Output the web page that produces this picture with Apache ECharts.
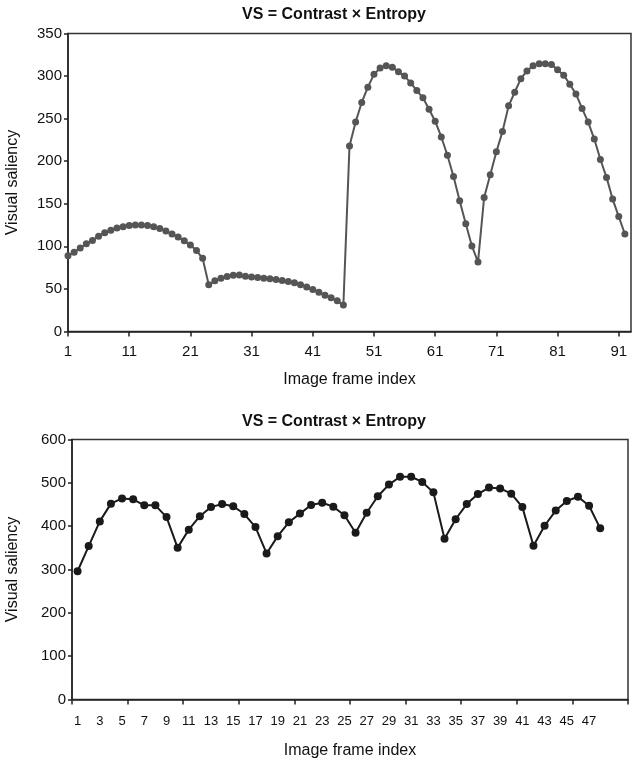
<!DOCTYPE html>
<html>
<head>
<meta charset="utf-8">
<script src="https://cdn.jsdelivr.net/npm/echarts@6/dist/echarts.min.js"></script>
<style>
html,body{margin:0;padding:0;background:#fff;}
#c{width:636px;height:760px;}
</style>
</head>
<body>
<div id="c"></div>
<script>
// ---- Data ----
var titleText = 'VS = Contrast × Entropy';
var xName = 'Image frame index';
var yName = 'Visual saliency';

// Top chart: frame index categories 1..93
var topCategories = Array.from({length: 93}, function (_, i) { return String(i + 1); });
var topValues = [
  89, 93, 98, 103, 107, 112, 116, 119, 121.5, 123, 124.5, 125, 125, 124.5, 123, 121, 118, 114.5, 111, 106.5, 101.5, 95, 86,
  55, 59.5, 62.5, 64.5, 66, 66.5, 65, 64, 63.3, 62.6, 62, 61, 60, 58.8, 57.2, 55, 52.2, 49.3, 46.2, 42.7, 39.5, 36, 31,
  218, 246, 269, 287, 302, 309.5, 312, 310.5, 305, 300, 292, 283, 274.5, 261, 247, 228.5, 207, 182, 153.5, 126.5, 100.5, 81.5,
  157.5, 184, 211, 235, 265, 281, 297, 306, 312, 314.5, 314.5, 313.5, 307.5, 301, 290.5, 279, 262, 246, 226, 202, 181, 155.5, 135, 114.5
];
var topYTicks = [0, 50, 100, 150, 200, 250, 300, 350];

// Bottom chart: frame index categories 1..48 (axis spans 50 slots)
var bottomCategories = ['1','2','3','4','5','6','7','8','9','10','11','12','13','14','15','16','17','18','19','20','21','22','23','24',
  '25','26','27','28','29','30','31','32','33','34','35','36','37','38','39','40','41','42','43','44','45','46','47','48','',''];
var bottomValues = [
  296, 354, 411, 452, 464, 462, 448, 448, 421, 350,
  392, 423, 444, 451, 446, 428, 398, 337, 377, 409,
  429, 449, 454, 445, 425, 385, 431, 469, 496, 514,
  514, 502, 478, 371, 416, 451, 474, 489, 487, 475,
  444, 355, 401, 436, 458, 468, 447, 395
];
var bottomYTicks = [0, 100, 200, 300, 400, 500, 600];

// ---- Chart ----
var FONT = 'Liberation Sans';
var axisColor = '#222';
var chart = echarts.init(document.getElementById('c'), null, {renderer: 'canvas'});

function yAxisCfg(gridIndex, ticks, gap) {
  return {
    type: 'value', gridIndex: gridIndex,
    min: ticks[0], max: ticks[ticks.length - 1], interval: ticks[1] - ticks[0],
    name: yName, nameLocation: 'middle', nameGap: gap, nameRotate: 90,
    nameTextStyle: {fontFamily: FONT, fontSize: 16, color: '#111'},
    axisLine: {show: true, lineStyle: {color: axisColor, width: 1.5}},
    axisTick: {show: true, inside: false, length: 4, lineStyle: {color: axisColor, width: 1.5}},
    axisLabel: {fontFamily: FONT, fontSize: 15, color: '#111', margin: 6},
    splitLine: {show: false}
  };
}

var option = {
  animation: false,
  backgroundColor: '#fff',
  title: [
    {text: titleText, left: 329, top: 2, textAlign: 'center',
     textStyle: {fontFamily: FONT, fontSize: 16, fontWeight: 'bold', color: '#111'}},
    {text: titleText, left: 329, top: 409, textAlign: 'center',
     textStyle: {fontFamily: FONT, fontSize: 16, fontWeight: 'bold', color: '#111'}}
  ],
  grid: [
    {left: 68, right: 5, top: 33.5, height: 298, show: true, borderColor: '#333', borderWidth: 1.5,
     backgroundColor: 'transparent', containLabel: false, outerBoundsMode: 'none'},
    {left: 72, right: 8, top: 439.5, height: 260, show: true, borderColor: '#333', borderWidth: 1.5,
     backgroundColor: 'transparent', containLabel: false, outerBoundsMode: 'none'}
  ],
  xAxis: [
    {
      type: 'category', gridIndex: 0, data: topCategories, boundaryGap: false,
      name: xName, nameLocation: 'middle', nameGap: 40,
      nameTextStyle: {fontFamily: FONT, fontSize: 16, color: '#111'},
      axisLine: {show: true, lineStyle: {color: axisColor, width: 1.5}},
      axisTick: {show: true, interval: 9, length: 5, lineStyle: {color: axisColor, width: 1.5}},
      axisLabel: {interval: 9, fontFamily: FONT, fontSize: 15, color: '#111', margin: 13},
      splitLine: {show: false}
    },
    {
      type: 'category', gridIndex: 1, data: bottomCategories, boundaryGap: true,
      name: xName, nameLocation: 'middle', nameGap: 43,
      nameTextStyle: {fontFamily: FONT, fontSize: 16, color: '#111'},
      axisLine: {show: true, lineStyle: {color: axisColor, width: 1.5}},
      axisTick: {show: true, interval: 4, alignWithLabel: false, length: 5, lineStyle: {color: axisColor, width: 1.5}},
      axisLabel: {interval: 1, fontFamily: FONT, fontSize: 13, color: '#111', margin: 15},
      splitLine: {show: false}
    }
  ],
  yAxis: [
    yAxisCfg(0, topYTicks, 47),
    yAxisCfg(1, bottomYTicks, 51)
  ],
  series: [
    {
      type: 'line', xAxisIndex: 0, yAxisIndex: 0, data: topValues,
      symbol: 'circle', symbolSize: 7, showAllSymbol: true,
      lineStyle: {color: '#555', width: 2},
      itemStyle: {color: '#555'}
    },
    {
      type: 'line', xAxisIndex: 1, yAxisIndex: 1, data: bottomValues,
      symbol: 'circle', symbolSize: 8, showAllSymbol: true,
      lineStyle: {color: '#1a1a1a', width: 2},
      itemStyle: {color: '#1a1a1a'}
    }
  ]
};
chart.setOption(option);
</script>
</body>
</html>
